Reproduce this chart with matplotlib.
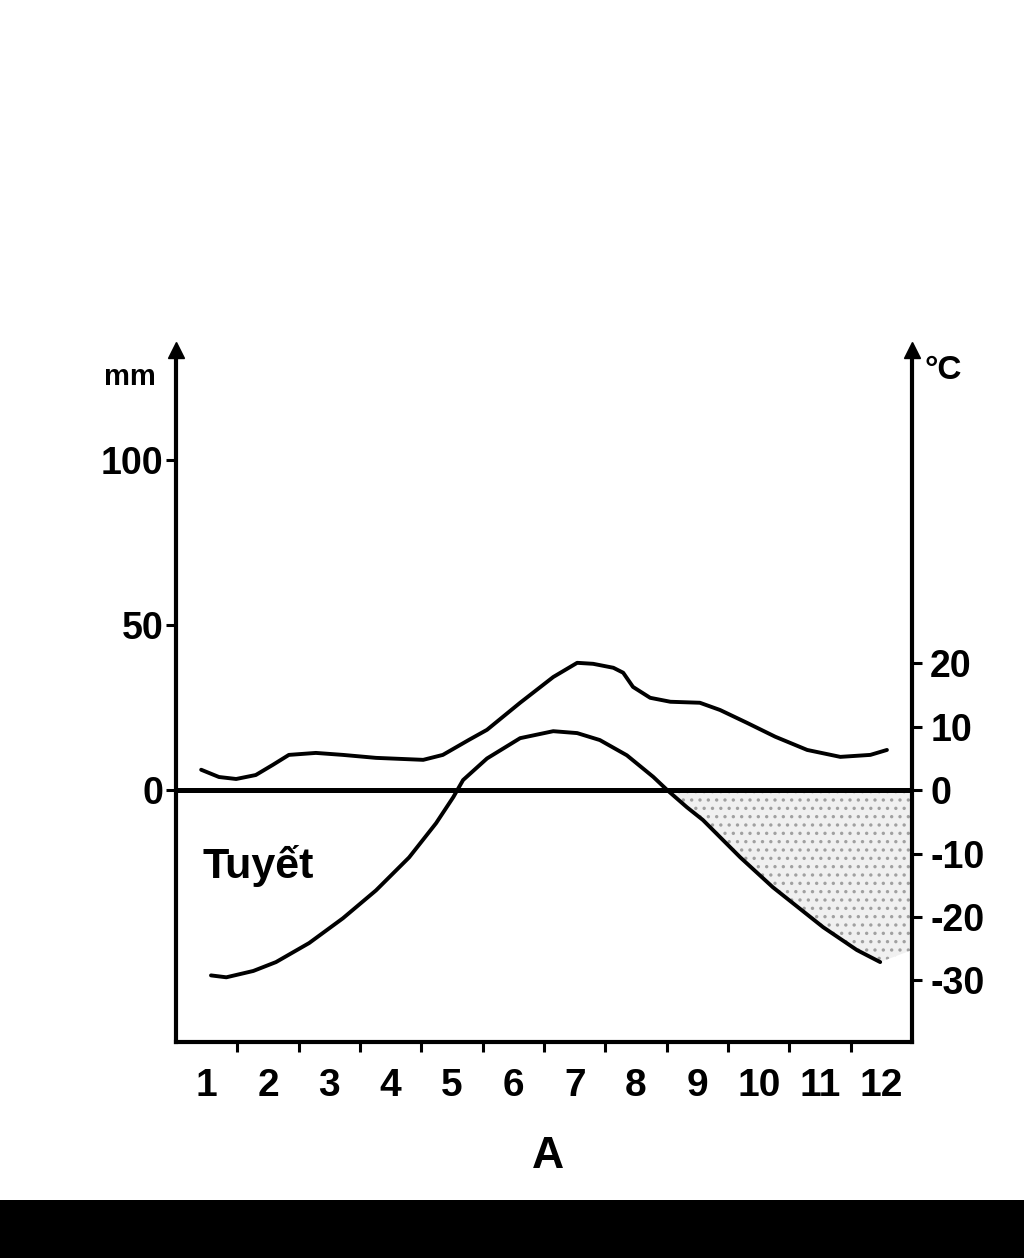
import matplotlib.pyplot as plt
from matplotlib.patches import Rectangle

plt.rcParams['font.family'] = ['Liberation Sans', 'DejaVu Sans']
plt.rcParams['font.weight'] = 'bold'
plt.rcParams['hatch.color'] = '#a0a0a0'
plt.rcParams['hatch.linewidth'] = 1.2

months = list(range(1, 13))
month_labels = [str(m) for m in months]
mm_ticks = [0, 50, 100]
temp_ticks = [20, 10, 0, -10, -20, -30]
temp_tick_labels = ["20", "10", "0", "-10", "-20", "-30"]

# precipitation curve (month position, mm)
rain_x = [0.91, 1.20, 1.48, 1.80, 2.08, 2.34, 2.78, 3.22, 3.76, 4.53,
          4.85, 5.28, 5.57, 6.11, 6.65, 7.04, 7.30, 7.63, 7.79, 7.95,
          8.23, 8.56, 9.04, 9.37, 9.81, 10.27, 10.79, 11.33, 11.82, 12.09]
rain_mm = [6.1, 3.9, 3.3, 4.5, 7.6, 10.6, 11.2, 10.6, 9.7, 9.1,
           10.6, 15.2, 18.2, 26.4, 34.2, 38.5, 38.2, 37.0, 35.5, 31.2,
           27.9, 26.7, 26.4, 24.2, 20.3, 16.1, 12.1, 10.0, 10.6, 12.1]

# temperature curve (month position, degC)
temp_x = [1.07, 1.32, 1.76, 2.13, 2.67, 3.22, 3.76, 4.30, 4.74, 5.02,
          5.18, 5.57, 6.11, 6.65, 7.04, 7.41, 7.85, 8.28, 8.51, 8.83,
          9.09, 9.70, 10.23, 11.05, 11.60, 11.98]
temp_c = [-29.2, -29.5, -28.5, -27.1, -24.1, -20.2, -15.8, -10.6, -5.2, -1.1,
          1.6, 5.0, 8.2, 9.3, 9.0, 7.9, 5.5, 2.1, 0.0, -2.7,
          -4.7, -10.6, -15.3, -21.6, -25.2, -27.1]

# snow cover: from where the temperature drops below zero to the axis
snow_x = [x for x in temp_x if x >= 8.5] + [12.5]
snow_c = [c for x, c in zip(temp_x, temp_c) if x >= 8.5] + [-25.2]

fig = plt.figure(figsize=(10.24, 12.58), dpi=100)
ax = fig.add_axes([0.1719, 0.1717, 0.7188, 0.5501])
tax = ax.twinx()

ax.set_xlim(0.5, 12.5)
ax.set_ylim(-76.4, 133.3)
tax.set_ylim(-39.7, 69.4)

tax.fill_between(snow_x, snow_c, 0, facecolor='#f0f0f0', edgecolor='#a0a0a0',
                 hatch='..', linewidth=0, zorder=1)

tax.axhline(0, color='black', lw=3.6, zorder=3)
ax.plot(rain_x, rain_mm, color='black', lw=2.8, solid_capstyle='round',
        solid_joinstyle='round', zorder=4)
tax.plot(temp_x, temp_c, color='black', lw=2.8, solid_capstyle='round',
         solid_joinstyle='round', zorder=4)

for a in (ax, tax):
    for s in a.spines.values():
        s.set_visible(False)
        s.set_linewidth(3)
ax.spines['left'].set_visible(True)
ax.spines['bottom'].set_visible(True)
tax.spines['right'].set_visible(True)

# arrow heads on both vertical axes
ax.plot([0.5], [133.3], marker='^', ms=11, color='black', clip_on=False, zorder=5)
ax.plot([12.5], [133.3], marker='^', ms=11, color='black', clip_on=False, zorder=5)

ax.set_xticks(months, month_labels)
ax.set_xticks([m + 0.5 for m in months[:-1]], minor=True)
ax.tick_params(axis='x', which='major', length=0, pad=19, labelsize=28)
ax.tick_params(axis='x', which='minor', direction='out', length=7, width=2.2)

ax.set_yticks(mm_ticks)
ax.tick_params(axis='y', direction='out', length=7, width=2.2, pad=2, labelsize=27)

tax.set_yticks(temp_ticks, temp_tick_labels)
tax.tick_params(axis='y', direction='out', length=7, width=2.2, pad=6, labelsize=27)

fig.text(130 / 1024, 1 - 377 / 1258, 'mm', fontsize=21, ha='center', va='center')
fig.text(943 / 1024, 1 - 370 / 1258, '°C', fontsize=24, ha='center', va='center')

ax.text(258 / 1024, 1 - 866 / 1258, 'Tuyết', transform=fig.transFigure,
        fontsize=31, ha='center', va='center', zorder=6)
ax.text(825 / 1024, 1 - 843 / 1258, 'Tuyết', transform=fig.transFigure,
        fontsize=31, ha='center', va='center', zorder=6)

fig.text(548 / 1024, 1 - 1156 / 1258, 'A', fontsize=32, ha='center', va='center')

fig.patches.append(Rectangle((0, 0), 1, 58 / 1258, transform=fig.transFigure,
                             facecolor='black', edgecolor='none', zorder=10))

fig.savefig('out.png', dpi=100)
